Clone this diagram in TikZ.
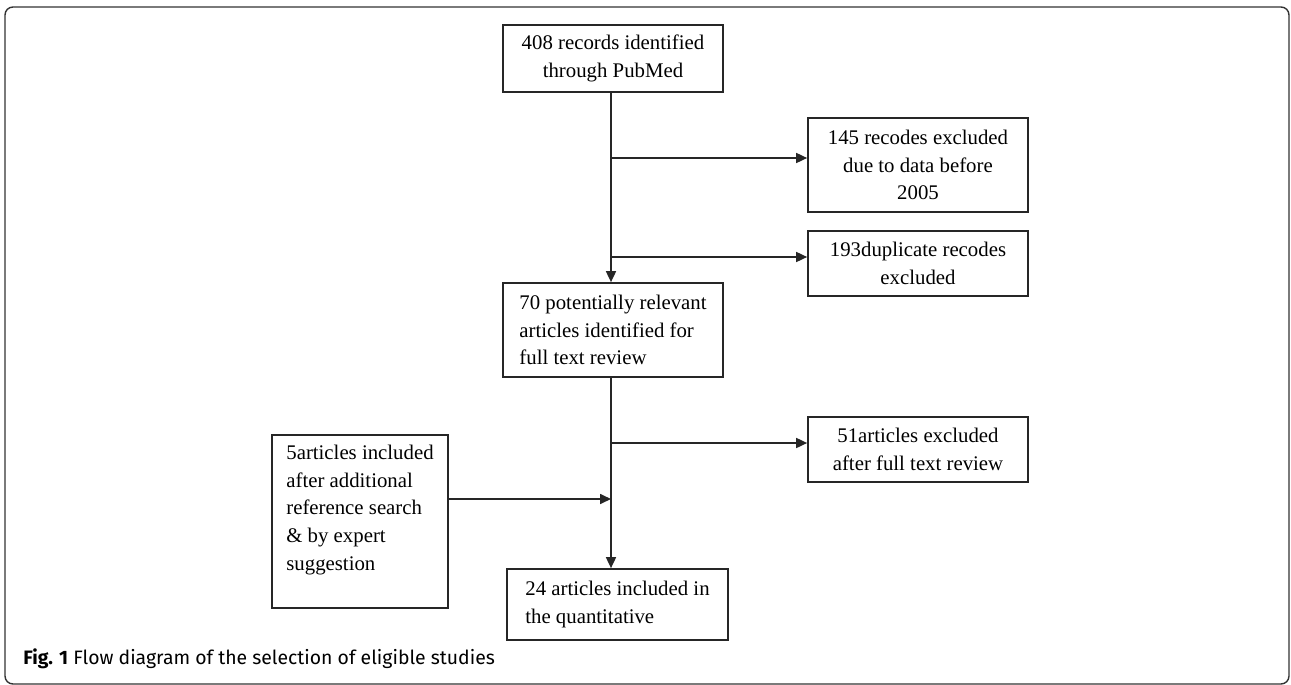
\documentclass[tikz,border=0pt]{standalone}
\usepackage{fontspec}
\setmainfont{Liberation Serif}
\newfontfamily\capfont{Fira Sans}
\usetikzlibrary{positioning}
\usetikzlibrary{arrows.meta}
\tikzset{
    x=0.5pt, y=-0.5pt, % one unit is one pixel of the figure
    stagebox/.style={ % boxes of the flow
        draw=black!85,
        line width=0.85pt,
        inner sep=0pt,
        font=\fontsize{10.4}{13.8}\selectfont
    },
    flow/.style={ % connectors with filled heads
        draw=black!85,
        line width=0.85pt,
        -{Triangle[length=5.5pt,width=5pt]}
    }
}

\begin{document}
\begin{tikzpicture}
    \useasboundingbox (0,0) rectangle (1291,685);
    \draw[black!80, line width=0.7pt, rounded corners=4pt] (5,7) rectangle (1289,684);

    % main column
    \node[stagebox, minimum width=110pt, minimum height=33.5pt, align=center] (records) at (613,58.5) {408 records identified\\through PubMed};
    \node[stagebox, minimum width=110pt, minimum height=47pt, align=left] (fulltext) at (613,330) {70 potentially relevant\\articles identified for\\full text review};
    \node[stagebox, minimum width=110.5pt, minimum height=35.5pt, align=left] (included) at (617.5,604.5) {24 articles included in\\the quantitative};

    % excluded side
    \node[stagebox, minimum width=110pt, minimum height=47pt, align=center] (before) at (918,165) {145 recodes excluded\\due to data before\\2005};
    \node[stagebox, minimum width=110pt, minimum height=32.5pt, align=center] (duplicate) at (918,263.5) {193duplicate recodes\\excluded};
    \node[stagebox, minimum width=110pt, minimum height=32.5pt, align=center] (afterreview) at (918,449.5) {51articles excluded\\after full text review};

    % added side
    \node[stagebox, minimum width=88pt, minimum height=86.5pt, align=left] (extra) at (360,521.5) {5articles included\\after additional\\reference search\\\& by expert\\suggestion\\\mbox{}};

    \coordinate (j1) at (611,158);
    \coordinate (j2) at (611,257);
    \coordinate (j3) at (611,443);
    \coordinate (j4) at (611,499);

    \draw[flow] (records.south -| j1) -- (j1 |- fulltext.north);
    \draw[flow] (j1) -- (j1 -| before.west);
    \draw[flow] (j2) -- (j2 -| duplicate.west);
    \draw[flow] (fulltext.south -| j3) -- (j3 |- included.north);
    \draw[flow] (j3) -- (j3 -| afterreview.west);
    \draw[flow] (extra.east |- j4) -- (j4);

    \node[anchor=west, inner sep=0pt, font=\capfont\fontsize{9.7}{12}\selectfont] (caption) at (23,659) {\textbf{Fig. 1} Flow diagram of the selection of eligible studies};
\end{tikzpicture}
\end{document}
